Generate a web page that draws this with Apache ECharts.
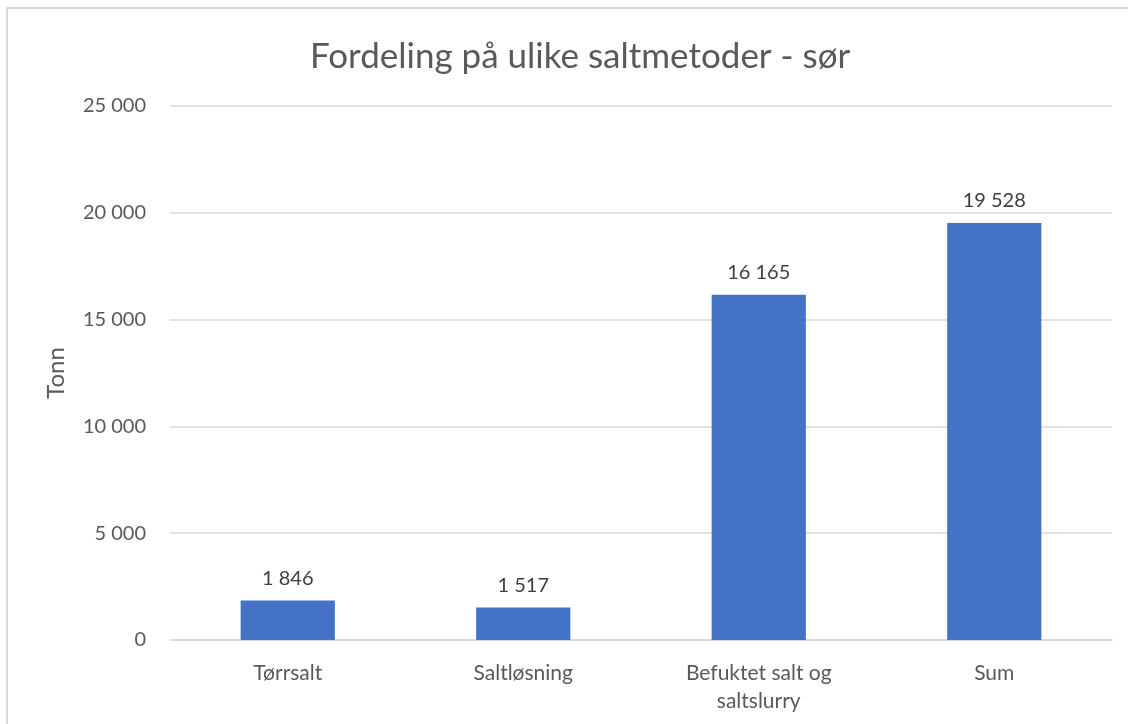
<!DOCTYPE html>
<html>
<head>
<meta charset="utf-8">
<script src="https://cdn.jsdelivr.net/npm/echarts@6/dist/echarts.min.js"></script>
<style>
  html, body { margin: 0; padding: 0; background: #fff; }
  #chart { width: 1128px; height: 724px; }
</style>
</head>
<body>
<div id="chart"></div>
<script>
var categories = ['Tørrsalt', 'Saltløsning', 'Befuktet salt og\nsaltslurry', 'Sum'];
var values = [1846, 1517, 16165, 19528];
var yTicks = { min: 0, max: 25000, step: 5000 };

function fmt(v) {
  return String(v).replace(/\B(?=(\d{3})+(?!\d))/g, ' ');
}

var font = 'Lato';
var myChart = echarts.init(document.getElementById('chart'));
myChart.setOption({
  animation: false,
  textStyle: { fontFamily: font },
  graphic: [{
    type: 'rect',
    shape: { x: 7, y: 8, width: 1300, height: 900 },
    style: { fill: 'none', stroke: '#d9d9d9', lineWidth: 2 }
  }],
  title: {
    text: 'Fordeling på ulike saltmetoder - sør',
    left: 305,
    top: 34,
    textStyle: { fontFamily: font, fontSize: 35, fontWeight: 'normal', color: '#595959' }
  },
  grid: { left: 170, right: 16, top: 106, bottom: 84 },
  xAxis: {
    type: 'category',
    data: categories,
    axisTick: { show: false },
    axisLine: { lineStyle: { color: '#d9d9d9', width: 1.5 } },
    axisLabel: { color: '#595959', fontSize: 21, margin: 19, lineHeight: 28, interval: 0 }
  },
  yAxis: {
    type: 'value',
    min: yTicks.min,
    max: yTicks.max,
    interval: yTicks.step,
    name: 'Tonn',
    nameLocation: 'middle',
    nameGap: 102,
    nameTextStyle: { color: '#595959', fontSize: 24 },
    axisLine: { show: false },
    axisTick: { show: false },
    splitLine: { lineStyle: { color: '#d9d9d9', width: 1.5 } },
    axisLabel: { color: '#595959', fontSize: 20, margin: 24, formatter: fmt }
  },
  series: [{
    type: 'bar',
    data: values,
    barWidth: '40%',
    itemStyle: { color: '#4472c4' },
    label: {
      show: true,
      position: 'top',
      distance: 12,
      color: '#404040',
      fontSize: 20,
      formatter: function (p) { return fmt(p.value); }
    }
  }]
});
</script>
</body>
</html>
